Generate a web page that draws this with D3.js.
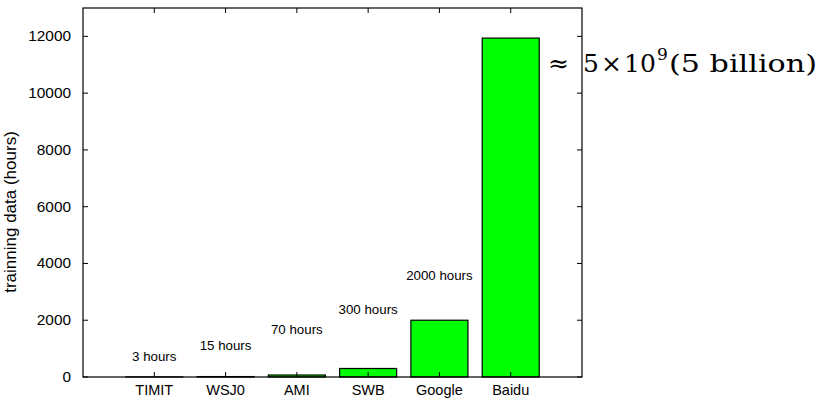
<!DOCTYPE html>
<html>
<head>
<meta charset="utf-8">
<script src="https://cdn.jsdelivr.net/npm/d3@7"></script>
<style>
  body { margin: 0; background: #fff; }
  text { font-family: "Liberation Sans", Arial, sans-serif; fill: #000; }
</style>
</head>
<body>
<svg id="chart" width="823" height="400"></svg>
<script>

// data
var categories = [ 'TIMIT', 'WSJ0', 'AMI', 'SWB', 'Google', 'Baidu' ];
var hours = [ 3, 15, 70, 300, 2000, 11940 ];
var noteLabels = [ '3 hours', '15 hours', '70 hours', '300 hours', '2000 hours' ];
var noteLevels = [ 560, 950, 1510, 2220, 3410 ];   // where each note sits, in hours
var yTicks = [ 0, 2000, 4000, 6000, 8000, 10000, 12000 ];

var margin = { left: 83, right: 241, top: 8, bottom: 23 };
var width = 823, height = 400;

var svg = d3.select('#chart');

var x = d3.scaleLinear()
    .domain([ 0, categories.length + 1 ])
    .range([ margin.left, width - margin.right ]);

var y = d3.scaleLinear()
    .domain([ 0, 13000 ])
    .range([ height - margin.bottom, margin.top ]);

var barW = x(0.8) - x(0);

// bars
svg.selectAll('.bar')
    .data( hours )
    .enter().append('rect')
    .attr('class', 'bar')
    .attr('x', function ( d, i ) { return x( i + 1 ) - barW / 2; })
    .attr('y', function ( d ) { return y( d ); })
    .attr('width', barW)
    .attr('height', function ( d ) { return y( 0 ) - y( d ); })
    .style('fill', '#00ff00')
    .style('stroke', '#000')
    .style('stroke-width', 1.2);

// frame
svg.append('rect')
    .attr('x', x.range()[0])
    .attr('y', y.range()[1])
    .attr('width', x.range()[1] - x.range()[0])
    .attr('height', y.range()[0] - y.range()[1])
    .style('fill', 'none')
    .style('stroke', '#000')
    .style('stroke-width', 1.2);

// inward ticks, gnuplot style
var tickLen = 5;
var g = svg.append('g').style('stroke', '#000').style('stroke-width', 1);

yTicks.forEach( function ( t ) {
    g.append('line').attr('x1', x.range()[0]).attr('x2', x.range()[0] + tickLen)
        .attr('y1', y( t )).attr('y2', y( t ));
    g.append('line').attr('x1', x.range()[1]).attr('x2', x.range()[1] - tickLen)
        .attr('y1', y( t )).attr('y2', y( t ));
});

categories.forEach( function ( c, i ) {
    g.append('line').attr('x1', x( i + 1 )).attr('x2', x( i + 1 ))
        .attr('y1', y.range()[0]).attr('y2', y.range()[0] - tickLen);
    g.append('line').attr('x1', x( i + 1 )).attr('x2', x( i + 1 ))
        .attr('y1', y.range()[1]).attr('y2', y.range()[1] + tickLen);
});

// y tick labels (the original face is a bit wider, so stretch a little)
svg.selectAll('.ylab')
    .data( yTicks )
    .enter().append('text')
    .attr('class', 'ylab')
    .attr('transform', function ( d ) {
        return 'translate(' + ( x.range()[0] - 12 ) + ',' + y( d ) + ') scale(1.1,1)';
    })
    .attr('dy', '0.35em')
    .attr('text-anchor', 'end')
    .style('font-size', '14px')
    .text( function ( d ) { return d; });

// category labels
svg.selectAll('.xlab')
    .data( categories )
    .enter().append('text')
    .attr('class', 'xlab')
    .attr('x', function ( d, i ) { return x( i + 1 ); })
    .attr('y', 395)
    .attr('text-anchor', 'middle')
    .style('font-size', '14.5px')
    .text( function ( d ) { return d; });

// hour notes above the small bars
svg.selectAll('.note')
    .data( noteLabels )
    .enter().append('text')
    .attr('class', 'note')
    .attr('x', function ( d, i ) { return x( i + 1 ); })
    .attr('y', function ( d, i ) { return y( noteLevels[ i ] ); })
    .attr('text-anchor', 'middle')
    .style('font-size', '13.3px')
    .text( function ( d ) { return d; });

// y axis title
svg.append('text')
    .attr('transform', 'translate(16,' + 212 + ') rotate(-90)')
    .attr('text-anchor', 'middle')
    .style('font-size', '17px')
    .text('trainning data (hours)');

// the big note next to the Baidu bar, set piece by piece like TeX math
var big = svg.append('text')
    .attr('y', 72)
    .style('font-family', '"DejaVu Serif", "Liberation Serif", serif')
    .style('font-size', '25px');

big.append('tspan').attr('x', 548).text('\u2248');
big.append('tspan').attr('x', 583).attr('textLength', 15).text('5');
big.append('tspan').attr('x', 601).attr('textLength', 18).text('\u00d7');
big.append('tspan').attr('x', 624).attr('textLength', 32).text('10');
big.append('tspan').attr('x', 657).attr('dy', -12).style('font-size', '17px').text('9');
big.append('tspan').attr('x', 669).attr('dy', 12)
    .attr('textLength', 148).attr('lengthAdjust', 'spacingAndGlyphs')
    .text('(5 billion)');

</script>
</body>
</html>
